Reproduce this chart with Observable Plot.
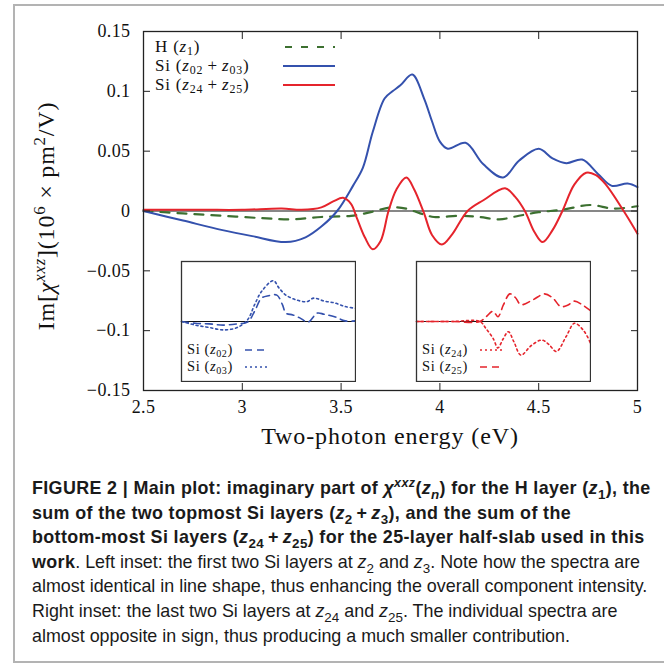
<!DOCTYPE html>
<html>
<head>
<meta charset="utf-8">
<script src="https://cdn.jsdelivr.net/npm/d3@7"></script>
<script src="https://cdn.jsdelivr.net/npm/@observablehq/plot@0.6"></script>
<style>
  body { margin: 0; background: #fff; }
  #wrap { position: relative; width: 664px; height: 665px; overflow: hidden; background: #fff; }
  #border { position: absolute; left: 13px; top: 4px; width: 700px; height: 655px;
            border-top: 2px solid #b3b3b3; border-left: 2px solid #b3b3b3; border-bottom: 2px solid #b3b3b3; }
  #main { position: absolute; left: 0; top: 0; }
  .serif { font-family: "Liberation Serif", "DejaVu Serif", serif; color: #111; }
  .abs { position: absolute; white-space: nowrap; }
  sub, sup { font-size: 0.7em; line-height: 0; }
  #ylabel { left: 46px; top: 216px; transform: translate(-50%, -50%) rotate(-90deg); font-size: 24px; letter-spacing: 0.8px; }
  #xlabel { left: 390px; top: 436px; transform: translate(-50%, -50%); font-size: 24px; letter-spacing: 0.9px; }
  .leg { font-size: 17px; line-height: 17px; height: 17px; letter-spacing: 0.8px; }
  .leg sub, .ileg sub { vertical-align: -0.27em; }
  .ileg { font-size: 14.5px; line-height: 15px; height: 15px; letter-spacing: 0.6px; }
  .inset { position: absolute; background: #fff; }
  #caption { position: absolute; left: 32px; top: 476px; width: 640px;
             font-family: "Liberation Sans", Arial, sans-serif; font-size: 17.9px; line-height: 24.6px; color: #1a1a1a; }
  #caption .ln { white-space: nowrap; height: 24.6px; }
  #caption b { letter-spacing: 0.36px; }
  #caption sub { font-size: 0.75em; }
</style>
</head>
<body>
<div id="wrap">
  <div id="border"></div>
  <div id="main"></div>
  <div id="ylabel" class="abs serif">Im[<i>χ</i><sup><i>xxz</i></sup>](10<sup>6</sup> × pm<sup>2</sup>/V)</div>
  <div id="xlabel" class="abs serif">Two-photon energy (eV)</div>
  <div id="inset1" class="inset" style="left:180px; top:260px;"></div>
  <div id="inset2" class="inset" style="left:415px; top:260px;"></div>
  <div id="caption"></div>
</div>
<script>
// ---------- data ----------
// Main plot: H layer (z1)
const energyH = [2.5, 2.7, 2.9, 3.1, 3.25, 3.4, 3.55, 3.65, 3.75, 3.83, 3.9, 3.97, 4.1, 4.2, 4.3, 4.4, 4.5, 4.62, 4.76, 4.88, 5.0];
const imH     = [0, -0.002, -0.004, -0.006, -0.007, -0.005, -0.004, -0.001, 0.003, 0.002, -0.002, -0.005, -0.004, -0.005, -0.007, -0.004, -0.001, 0.001, 0.005, 0.002, 0.004];
// Main plot: Si (z02 + z03)
const energyTop = [2.5, 2.7, 2.9, 3.05, 3.22, 3.32, 3.4, 3.48, 3.56, 3.61, 3.66, 3.72, 3.76, 3.8, 3.86, 3.92, 3.96, 4.0, 4.04, 4.13, 4.22, 4.32, 4.4, 4.5, 4.57, 4.64, 4.72, 4.8, 4.87, 4.95, 5.0];
const imTop     = [0, -0.008, -0.016, -0.021, -0.026, -0.022, -0.013, 0, 0.021, 0.036, 0.066, 0.094, 0.1, 0.105, 0.114, 0.094, 0.075, 0.058, 0.052, 0.057, 0.039, 0.028, 0.042, 0.052, 0.044, 0.04, 0.043, 0.031, 0.021, 0.023, 0.02];
// Main plot: Si (z24 + z25)
const energyBottom = [2.5, 2.8, 3.0, 3.2, 3.3, 3.4, 3.46, 3.51, 3.55, 3.58, 3.62, 3.66, 3.7, 3.74, 3.78, 3.83, 3.87, 3.92, 3.96, 4.01, 4.06, 4.14, 4.22, 4.33, 4.38, 4.43, 4.48, 4.52, 4.57, 4.62, 4.68, 4.74, 4.79, 4.84, 4.93, 5.0];
const imBottom     = [0.001, 0.001, 0.001, 0.002, 0.001, 0.003, 0.008, 0.011, 0.006, -0.006, -0.022, -0.032, -0.025, 0, 0.018, 0.028, 0.018, -0.002, -0.02, -0.028, -0.02, 0, 0.009, 0.019, 0.012, 0, -0.018, -0.026, -0.016, 0, 0.022, 0.032, 0.03, 0.022, 0, -0.019];
// Left inset: Si (z02), Si (z03)
const energyZ02 = [2.5, 2.7, 2.9, 3.1, 3.3, 3.45, 3.55, 3.65, 3.75, 3.87, 3.95, 4.0, 4.1, 4.2, 4.32, 4.45, 4.55, 4.7, 4.85, 5.0];
const imZ02     = [0, -0.003, -0.004, -0.006, -0.004, -0.001, 0.017, 0.039, 0.043, 0.044, 0.028, 0.014, 0.011, 0.006, -0.001, 0.014, 0.012, 0.008, 0.001, 0.001];
const energyZ03 = [2.5, 2.7, 2.9, 3.1, 3.3, 3.45, 3.55, 3.65, 3.82, 3.9, 4.0, 4.15, 4.3, 4.4, 4.55, 4.7, 4.85, 5.0];
const imZ03     = [0, -0.006, -0.01, -0.014, -0.01, 0.003, 0.028, 0.05, 0.068, 0.056, 0.044, 0.036, 0.033, 0.039, 0.034, 0.031, 0.025, 0.022];
// Right inset: Si (z24), Si (z25)
const energyZ24 = [2.5, 3.0, 3.41, 3.5, 3.6, 3.67, 3.74, 3.82, 3.9, 4.0, 4.15, 4.3, 4.4, 4.51, 4.65, 4.77, 4.9, 5.0];
const imZ24     = [0, 0, 0, -0.012, -0.028, -0.044, -0.03, -0.017, -0.034, -0.056, -0.04, -0.031, -0.038, -0.05, -0.025, -0.003, -0.015, -0.036];
const energyZ25 = [2.5, 3.0, 3.41, 3.5, 3.6, 3.67, 3.75, 3.84, 3.92, 4.0, 4.17, 4.34, 4.46, 4.57, 4.67, 4.77, 4.88, 5.0];
const imZ25     = [0, 0, 0, 0.008, 0.017, 0.008, 0.028, 0.046, 0.04, 0.028, 0.036, 0.046, 0.039, 0.025, 0.027, 0.034, 0.028, 0.018];
// Axes
const xTicks = [2.5, 3, 3.5, 4, 4.5, 5];
const yTicks = [-0.15, -0.1, -0.05, 0, 0.05, 0.1, 0.15];
const xDomain = [2.5, 5];
const yDomain = [-0.15, 0.15];
const insetYDomain = [-0.1, 0.1];

// ---------- styles ----------
const cGreen = "#3c7030", cBlue = "#3451ad", cRed = "#e5242c";
const rows = (xs, ys) => xs.map((e, i) => ({e, v: ys[i]}));
const fmt = d => String(+d.toFixed(2)).replace("-", "\u2212");

// ---------- main plot ----------
const main = Plot.plot({
  width: 664, height: 455,
  marginLeft: 143, marginRight: 27, marginTop: 31, marginBottom: 65,
  style: {fontFamily: "'Liberation Serif', serif", fontSize: "18px", color: "#111", background: "transparent", letterSpacing: "0.4px"},
  x: {domain: xDomain, ticks: xTicks, tickFormat: fmt, label: null},
  y: {domain: yDomain, ticks: yTicks, tickFormat: fmt, label: null},
  marks: [
    Plot.ruleY([0], {stroke: "#111", strokeWidth: 1.1}),
    Plot.line(rows(energyH, imH), {x: "e", y: "v", stroke: cGreen, strokeWidth: 2.2, strokeDasharray: "9,8", curve: "catmull-rom"}),
    Plot.line(rows(energyTop, imTop), {x: "e", y: "v", stroke: cBlue, strokeWidth: 2, curve: "catmull-rom"}),
    Plot.line(rows(energyBottom, imBottom), {x: "e", y: "v", stroke: cRed, strokeWidth: 2, curve: "catmull-rom"}),
    Plot.axisX({anchor: "bottom", ticks: xTicks, tickSize: -7, tickPadding: 17, tickFormat: fmt, label: null, stroke: "#222"}),
    Plot.axisX({anchor: "top", ticks: xTicks, tickSize: -7, tickFormat: () => "", label: null, stroke: "#222"}),
    Plot.axisY({anchor: "left", ticks: yTicks, tickSize: -7, tickPadding: 20, tickFormat: fmt, label: null, stroke: "#222"}),
    Plot.axisY({anchor: "right", ticks: yTicks, tickSize: -7, tickFormat: () => "", label: null, stroke: "#222"}),
    Plot.frame({stroke: "#222", strokeWidth: 1.3})
  ]
});
document.getElementById("main").appendChild(main);

// ---------- insets ----------
function inset(el, series) {
  const p = Plot.plot({
    width: 176, height: 122, margin: 1,
    style: {background: "#fff"},
    x: {domain: xDomain, axis: null},
    y: {domain: insetYDomain, axis: null},
    marks: [
      Plot.ruleY([0], {stroke: "#111", strokeWidth: 1}),
      ...series.map(s => Plot.line(rows(s.x, s.y), {x: "e", y: "v", stroke: s.color, strokeWidth: 1.6, strokeDasharray: s.dash, curve: "catmull-rom"})),
      Plot.frame({stroke: "#333", strokeWidth: 1.3})
    ]
  });
  document.getElementById(el).appendChild(p);
}
const dashLong = "7,5", dotShort = "2,3";
inset("inset1", [
  {x: energyZ02, y: imZ02, color: cBlue, dash: dashLong},
  {x: energyZ03, y: imZ03, color: cBlue, dash: dotShort}
]);
inset("inset2", [
  {x: energyZ24, y: imZ24, color: cRed, dash: dotShort},
  {x: energyZ25, y: imZ25, color: cRed, dash: dashLong}
]);

// ---------- legends ----------
function legendRow(left, centerY, html, cls, lineX1, lineX2, color, dash, sw) {
  const wrap = document.getElementById("wrap");
  const h = cls === "leg" ? 17 : 15;
  const t = document.createElement("div");
  t.className = "abs serif " + cls;
  t.style.left = left + "px"; t.style.top = (centerY - h / 2 - 1) + "px";
  t.innerHTML = html;
  wrap.appendChild(t);
  const svg = d3.create("svg").attr("width", lineX2 - lineX1 + 2).attr("height", 6)
    .style("position", "absolute").style("left", (lineX1 - 1) + "px").style("top", (centerY - 3) + "px");
  svg.append("line").attr("x1", 1).attr("x2", lineX2 - lineX1 + 1).attr("y1", 3).attr("y2", 3)
    .attr("stroke", color).attr("stroke-width", sw).attr("stroke-dasharray", dash);
  wrap.appendChild(svg.node());
}
const legH   = 'H (<i>z</i><sub>1</sub>)';
const legTop = 'Si (<i>z</i><sub>02</sub>&#8201;+&#8201;<i>z</i><sub>03</sub>)';
const legBot = 'Si (<i>z</i><sub>24</sub>&#8201;+&#8201;<i>z</i><sub>25</sub>)';
legendRow(155, 47, legH, "leg", 285, 335, cGreen, "7,9", 2.2);
legendRow(155, 66, legTop, "leg", 283, 335, cBlue, null, 2);
legendRow(155, 85, legBot, "leg", 283, 335, cRed, null, 2);

legendRow(187, 350, 'Si (<i>z</i><sub>02</sub>)', "ileg", 245, 268, cBlue, dashLong, 1.6);
legendRow(187, 367, 'Si (<i>z</i><sub>03</sub>)', "ileg", 245, 268, cBlue, dotShort, 1.6);
legendRow(422, 350, 'Si (<i>z</i><sub>24</sub>)', "ileg", 480, 503, cRed, dotShort, 1.6);
legendRow(422, 367, 'Si (<i>z</i><sub>25</sub>)', "ileg", 480, 503, cRed, dashLong, 1.6);

// ---------- caption ----------
const captionLines = [
  '<b>FIGURE 2 | Main plot: imaginary part of <i>χ</i><sup><i>xxz</i></sup>(<i>z<sub>n</sub></i>) for the H layer (<i>z</i><sub>1</sub>), the</b>',
  '<b>sum of the two topmost Si layers (<i>z</i><sub>2</sub>&#8201;+&#8201;<i>z</i><sub>3</sub>), and the sum of the</b>',
  '<b>bottom-most Si layers (<i>z</i><sub>24</sub>&#8201;+&#8201;<i>z</i><sub>25</sub>) for the 25-layer half-slab used in this</b>',
  '<b>work</b>. Left inset: the first two Si layers at <i>z</i><sub>2</sub> and <i>z</i><sub>3</sub>. Note how the spectra are',
  'almost identical in line shape, thus enhancing the overall component intensity.',
  'Right inset: the last two Si layers at <i>z</i><sub>24</sub> and <i>z</i><sub>25</sub>. The individual spectra are',
  'almost opposite in sign, thus producing a much smaller contribution.'
];
const cap = document.getElementById("caption");
captionLines.forEach(h => {
  const d = document.createElement("div");
  d.className = "ln";
  d.innerHTML = h;
  cap.appendChild(d);
});
</script>
</body>
</html>
